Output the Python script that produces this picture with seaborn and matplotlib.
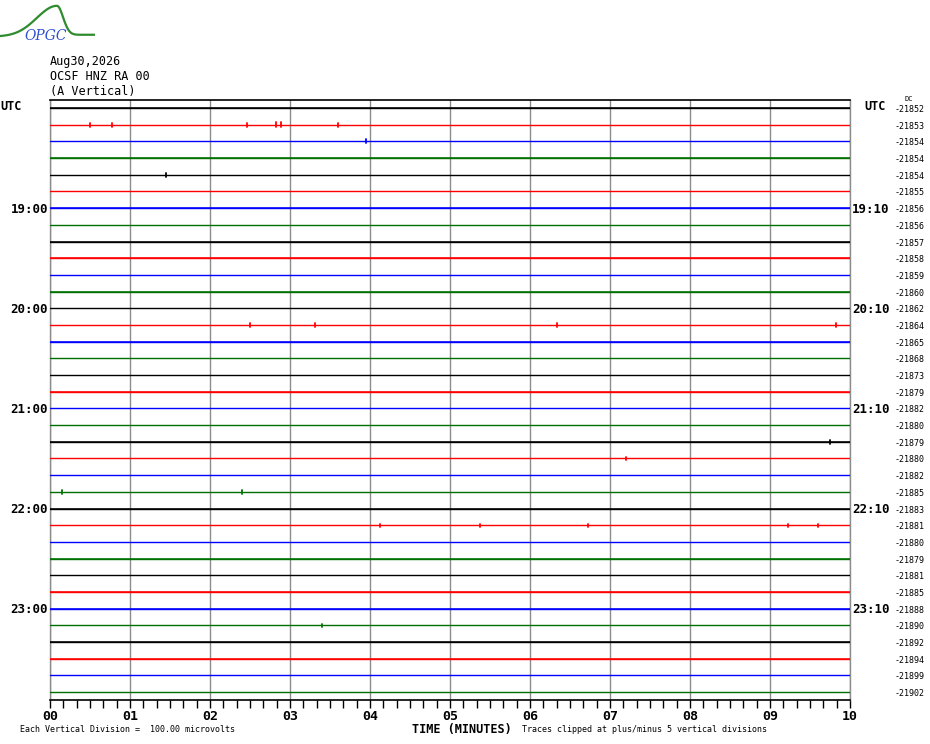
import numpy as np
import pandas as pd
import matplotlib
matplotlib.use("Agg")
import matplotlib.pyplot as plt
import seaborn as sns

# helicorder rows, 10 minutes each, 18:00 -> 23:50 UTC
trace_colors = ["black", "red", "blue", "green"]
hour_labels_left = ["19:00", "20:00", "21:00", "22:00", "23:00"]
hour_labels_right = ["19:10", "20:10", "21:10", "22:10", "23:10"]
hour_rows = [6, 12, 18, 24, 30]
dc_offsets = [-21852, -21853, -21854, -21854, -21854, -21855, -21856, -21856,
              -21857, -21858, -21859, -21860, -21862, -21864, -21865, -21868,
              -21873, -21879, -21882, -21880, -21879, -21880, -21882, -21885,
              -21883, -21881, -21880, -21879, -21881, -21885, -21888, -21890,
              -21892, -21894, -21899, -21902]
# rough background noise level per row, in vertical divisions
noise_level = [0.04, 0.0, 0.02, 0.045, 0.0, 0.02, 0.045, 0.0, 0.02, 0.045, 0.0, 0.02,
               0.045, 0.0, 0.045, 0.02, 0.02, 0.04, 0.045, 0.0, 0.02, 0.04, 0.0, 0.015,
               0.045, 0.0, 0.02, 0.04, 0.0, 0.04, 0.045, 0.0, 0.045, 0.02, 0.0, 0.02]
# small spikes: row, minute, amplitude in divisions
spike_row = [1, 1, 1, 1, 1, 1, 2, 4, 13, 13, 13, 13, 20, 21, 23, 23, 25, 25, 25, 25, 25, 31]
spike_min = [0.5, 0.78, 2.46, 2.83, 2.89, 3.6, 3.95, 1.45, 2.5, 3.31, 6.34, 9.83,
             9.75, 7.2, 0.15, 2.4, 4.13, 5.38, 6.73, 9.23, 9.6, 3.4]
spike_amp = [0.12, 0.12, 0.12, 0.14, 0.14, 0.12, 0.12, 0.12, 0.12, 0.1, 0.12, 0.14,
             0.12, 0.1, 0.12, 0.12, 0.1, 0.1, 0.1, 0.1, 0.1, 0.1]
minutes = list(range(11))
tick_labels = ["%02d" % m for m in minutes]

n_rows = len(dc_offsets)
rows = pd.DataFrame({
    "row": np.repeat(np.arange(n_rows), 2),
    "minute": np.tile([0, 10], n_rows),
})
rows["y"] = rows["row"]
rows["color"] = [trace_colors[r % 4] for r in rows["row"]]
spikes = pd.DataFrame({"row": spike_row, "minute": spike_min, "amp": spike_amp})

sns.set_style("white")
plt.rcParams["font.family"] = ["DejaVu Sans Mono", "DejaVu Sans"]
plt.rcParams["text.color"] = "black"

fig = plt.figure(figsize=(9.3, 7.44), dpi=100)
ax = fig.add_axes([50 / 930, 1 - 700 / 744, 800 / 930, 600 / 744])

# minute grid
for m in minutes:
    ax.axvline(m, color="#8c8c8c", lw=1.0, zorder=1)

palette = {"black": "black", "red": "#ff0000", "blue": "#0000ff", "green": "#007000"}
sns.lineplot(data=rows, x="minute", y="y", units="row", hue="color", palette=palette,
             estimator=None, lw=1.0, legend=False, ax=ax, zorder=3)

for r in range(n_rows):
    a = noise_level[r]
    if a > 0:
        ax.fill_between([0, 10], r - a, r + a, color=palette[trace_colors[r % 4]],
                        lw=0, alpha=0.8, zorder=3)

for _, s in spikes.iterrows():
    r = int(s["row"])
    ax.plot([s["minute"], s["minute"]], [r - s["amp"], r + s["amp"]],
            color=palette[trace_colors[r % 4]], lw=1.3, zorder=4)

ax.set_xlim(0, 10)
ax.set_ylim(35.47, -0.48)
ax.set_yticks([])
ax.set_xticks(np.arange(0, 10.01, 1 / 6))
ax.tick_params(axis="x", direction="out", length=6, width=1.0, color="black",
               labelbottom=False, bottom=True)
ax.set_xlabel("")
ax.set_ylabel("")
for side in ["left", "right"]:
    ax.spines[side].set_color("#8c8c8c")
    ax.spines[side].set_linewidth(1.0)
for side in ["top", "bottom"]:
    ax.spines[side].set_color("black")
    ax.spines[side].set_linewidth(1.2)


def fx(px):
    return px / 930


def fy(py):
    return 1 - py / 744


def row_px(r):
    return 108 + r * 16.69


# minute labels
for m, lab in zip(minutes, tick_labels):
    fig.text(fx(50 + m * 80), fy(716), lab, ha="center", va="center",
             fontsize=9.5, fontweight="bold")

# header
fig.text(fx(50), fy(61), "Aug30,2026", fontsize=8.5, va="center")
fig.text(fx(50), fy(76), "OCSF HNZ RA 00", fontsize=8.5, va="center")
fig.text(fx(50), fy(91), "(A Vertical)", fontsize=8.5, va="center")
fig.text(fx(0), fy(106), "UTC", fontsize=8.5, fontweight="bold", va="center")
fig.text(fx(864), fy(106), "UTC", fontsize=8.5, fontweight="bold", va="center")
fig.text(fx(904), fy(99), "DC", fontsize=5, va="center")

for lab, r in zip(hour_labels_left, hour_rows):
    fig.text(fx(48), fy(row_px(r) + 1), lab, ha="right", va="center",
             fontsize=9, fontweight="bold")
for lab, r in zip(hour_labels_right, hour_rows):
    fig.text(fx(852), fy(row_px(r) + 1), lab, ha="left", va="center",
             fontsize=9, fontweight="bold")
for r, dc in enumerate(dc_offsets):
    fig.text(fx(925), fy(row_px(r) + 1.5), str(dc), ha="right", va="center",
             fontsize=6)

# footer
fig.text(fx(462), fy(729), "TIME (MINUTES)", ha="center", va="center",
         fontsize=8.5, fontweight="bold")
fig.text(fx(20), fy(730), "Each Vertical Division =  100.00 microvolts",
         va="center", fontsize=6)
fig.text(fx(522), fy(730), "Traces clipped at plus/minus 5 vertical divisions",
         va="center", fontsize=6)

# logo
lax = fig.add_axes([0.0, 1 - 42 / 744, 95 / 930, 38 / 744])
lx = np.linspace(0, 10, 120)
ly = np.where(lx < 6, 0.15 + 0.85 * np.exp(-((lx - 6) / 3.0) ** 2),
              0.2 + 0.8 * np.exp(-((lx - 6) / 0.9) ** 2))
lax.plot(lx, ly, color="#2e8b2e", lw=1.6)
lax.set_xlim(0, 10)
lax.set_ylim(0, 1.05)
lax.axis("off")
fig.text(fx(24), fy(36), "OPGC", color="#3050d0", fontsize=10, style="italic",
         family="DejaVu Serif", va="center")

fig.savefig("out.png", dpi=100)
